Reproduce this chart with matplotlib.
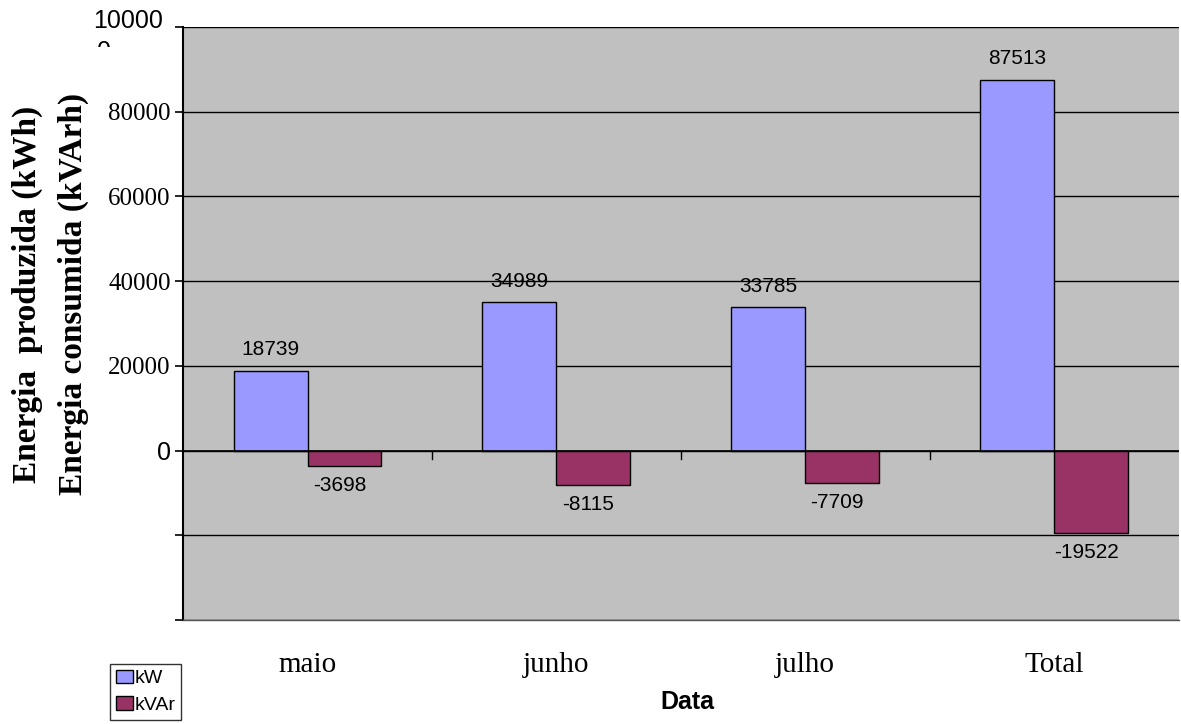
import matplotlib.pyplot as plt
import numpy as np
from matplotlib.transforms import Bbox

categories = ['maio', 'junho', 'julho', 'Total']
kw = [18739, 34989, 33785, 87513]
kvar = [-3698, -8115, -7709, -19522]
yticks = [100000, 80000, 60000, 40000, 20000, 0, -20000, -40000]
ytick_labels = ['', '80000', '60000', '40000', '20000', '0', '', '']

fig = plt.figure(figsize=(11.81, 7.24), dpi=100)
ax = fig.add_axes([0.155, 0.1436, 0.843, 0.8191])
ax.set_facecolor('#C0C0C0')

x = np.arange(len(categories))
w = 0.297
ax.bar(x - w / 2, kw, w, color='#9999FF', edgecolor='black', linewidth=1, label='kW', zorder=3)
ax.bar(x + w / 2, kvar, w, color='#993366', edgecolor='black', linewidth=1, label='kVAr', zorder=3)

for xi, v in zip(x, kw):
    ax.text(xi - w / 2, v + 2800, str(v), ha='center', va='bottom',
            fontsize=15, family='Liberation Sans')
for xi, v in zip(x, kvar):
    ax.text(xi + w / 2 - 0.02, v - 2300, str(v), ha='center', va='top',
            fontsize=15, family='Liberation Sans')

ax.set_xlim(-0.5, 3.5)
ax.set_ylim(-40000, 100000)
ax.set_yticks(yticks)
ax.set_yticklabels(ytick_labels, family='Liberation Serif', fontsize=18)
ax.get_yticklabels()[5].set_family('Liberation Sans')
ax.yaxis.grid(True, color='black', linewidth=1)
ax.set_axisbelow(True)
ax.tick_params(axis='y', length=6, width=1.2, pad=3)

# wrapped top label "10000 / 0", second line cut off
ax.text(-0.0205, 101300, '10000', transform=ax.get_yaxis_transform(), ha='right',
        va='center', fontsize=18, family='Liberation Sans', clip_on=False)
t = fig.text(104 / 1181, 1 - 40 / 724, '0', ha='center', va='top', fontsize=18,
             family='Liberation Sans')
t.set_clip_box(Bbox([[0, 724 - 47], [1181, 724]]))
t.set_clip_on(True)

# category labels at bottom, tick marks on the zero line
ax.set_xticks([])
for xi, c in zip(x, categories):
    ax.text(xi, -50500, c, ha='center', va='center', fontsize=21,
            family='Liberation Serif', clip_on=False)
for b in [0.5, 1.5, 2.5]:
    ax.plot([b, b], [0, -2000], color='black', linewidth=1, clip_on=False, zorder=4)
ax.axhline(0, color='black', linewidth=1.2, zorder=4)

for s in ['top', 'right']:
    ax.spines[s].set_visible(False)
ax.spines['left'].set_linewidth(1.5)
ax.spines['bottom'].set_linewidth(1)
ax.spines['bottom'].set_color('#555555')

fig.text(0.023, 0.594, 'Energia  produzida (kWh)', rotation=90, ha='center', va='center',
         fontsize=24, fontweight='bold', family='Liberation Serif')
fig.text(0.062, 0.594, 'Energia consumida (kVArh)', rotation=90, ha='center', va='center',
         fontsize=24, fontweight='bold', family='Liberation Serif')
fig.text(0.582, 0.03, 'Data', ha='center', va='center', fontsize=18,
         fontweight='bold', family='Liberation Sans')

leg = fig.legend(loc='upper right', bbox_to_anchor=(181 / 1181, 1 - 664 / 724),
                 prop={'family': 'Liberation Sans', 'size': 14}, frameon=True,
                 fancybox=False, edgecolor='black', handlelength=0.9, handleheight=0.7,
                 handletextpad=0.05, borderpad=0.3, labelspacing=0.45, borderaxespad=0)
leg.get_frame().set_linewidth(1)

fig.savefig('out.png', dpi=100)
